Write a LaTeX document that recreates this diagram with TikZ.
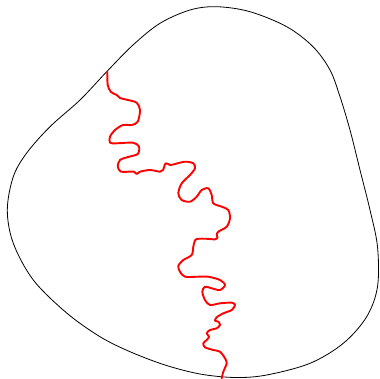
\documentclass[tikz,border=0pt]{standalone}
\begin{document}
\begin{tikzpicture}[x=1pt,y=-1pt,
  blob/.style={draw=black,line width=0.8pt},
  crack/.style={draw=red,line width=1.9pt,line cap=round,line join=round}]
\useasboundingbox (0,0) rectangle (379,379);
\draw[blob] plot[smooth cycle,tension=0.55] coordinates {
(106.7,71.7) (133,45) (160,23.3) (190,10) (216.7,6.7) (250,11.7) (286.7,26.7)
(313,46.7) (330,70) (340,96.7) (350,130) (360,170) (370,210) (377.5,246.7)
(377.5,286.7) (366.7,316.7) (343.3,343.3) (310,363.3) (266.7,375) (235,377.5)
(200,374) (165,365) (130,351.7) (100,336.7) (66.7,313) (33.3,280) (13.3,243.3)
(7.3,210) (13.3,176.7) (26.7,153) (50,126.7) (80,100)};
\draw[crack] plot[smooth,tension=0.5] coordinates {
(107.3,71.7) (107.7,85) (111,92) (116.7,95) (120,98) (128,100) (136.7,102.7)
(140,110) (137.7,121.7) (131.7,125) (123,125) (115,130) (110,136.7) (110,142.7)
(116.7,143.3) (133,142.7) (139,146.7) (137.7,154) (128,157) (120,160)
(117.7,166.7) (121,171.7) (128,171.7) (134,171.7) (136.7,174) (140,171.7)
(150,170) (160,171.7) (163,170) (165.7,163.3) (170,165) (175,164) (185,161.7)
(193.3,163.3) (195,168.3) (190,175) (181.7,183.3) (178.3,193.3) (181.7,200)
(190,201.7) (196.7,196.7) (201.7,190) (208.3,188.3) (211.7,195) (213.3,203.3)
(221.7,206.7) (228.3,210) (230,218.3) (226.7,226.7) (218.3,231.7) (216.7,235)
(217.5,237.5) (215,239.3) (206.7,238.8) (198.3,238.8) (195,240.3) (193.3,246.7)
(191.7,255) (183.3,260) (178.3,266) (180,271.7) (185,276.7) (198.3,276.7)
(208.3,276.7) (220,280) (225,285) (220,290) (211.7,288.3) (205,286.7)
(202.3,291.7) (205,300) (210,305) (220,303.3) (231.7,302.7) (235,305)
(231.7,310) (223.3,313.3) (216.7,317.3) (215,320.7) (218.3,321.7) (220,325)
(216.7,328.3) (210,330) (206.7,333.3) (209,336.7) (206.7,340) (203.3,343.3)
(205,347.3) (213.3,350) (220,351.7) (225,358.3) (226.7,363.3) (223.3,371.7)
(221.7,378.3)};
\end{tikzpicture}
\end{document}
